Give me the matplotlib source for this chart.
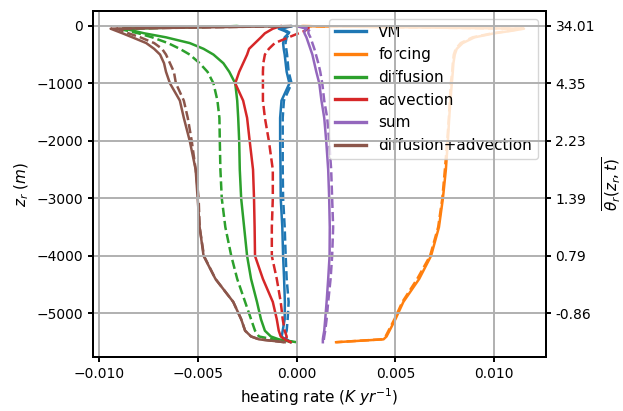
import matplotlib
matplotlib.use("Agg")
import matplotlib.pyplot as plt
import numpy as np

plt.rcParams["font.size"] = 11
plt.rcParams["xtick.labelsize"] = 10
plt.rcParams["ytick.labelsize"] = 10
plt.rcParams["axes.linewidth"] = 1.4
plt.rcParams["xtick.major.width"] = 1.4
plt.rcParams["ytick.major.width"] = 1.4
plt.rcParams["grid.linewidth"] = 1.4
plt.rcParams["lines.linewidth"] = 1.8

# depth levels (m)
z = [-5, -50, -90, -130, -200, -300, -400, -500, -650, -800, -1000, -1300, -1600, -2000, -2500,
     -3000, -3500, -4000, -4400, -4800, -5100, -5300, -5400, -5450, -5500]

# heating rates (K/yr), solid = run 1, dashed = run 2
vm = [-0.0003, -0.0009, -0.0006, -0.0004, -0.0006, -0.00068, -0.00065, -0.0006, -0.00055, -0.0005, -0.00036,
      -0.00076, -0.00083, -0.00083, -0.00081, -0.0008, -0.00072, -0.00068, -0.00063, -0.00059, -0.0006,
      -0.0007, -0.00075, -0.0006, -0.0003]
vm_2 = [-0.0002, -0.0008, -0.0005, -0.0003, -0.0005, -0.00056, -0.00052, -0.00048, -0.00044, -0.0004, -0.00025,
        -0.00064, -0.0007, -0.0007, -0.0007, -0.00068, -0.0006, -0.00055, -0.0005, -0.0004, -0.00045,
        -0.0005, -0.0006, -0.0005, -0.0003]
forcing = [0.0003, 0.0115, 0.0108, 0.0100, 0.0090, 0.0084, 0.0081, 0.0080, 0.00793, 0.0079, 0.00785,
           0.00778, 0.00772, 0.00765, 0.00755, 0.0074, 0.0072, 0.0068, 0.0062, 0.0054, 0.0050,
           0.0047, 0.00455, 0.0044, 0.0020]
forcing_2 = [0.0003, 0.0114, 0.0107, 0.0099, 0.0089, 0.0083, 0.00805, 0.00795, 0.0079, 0.00787, 0.0078,
             0.00775, 0.0077, 0.00762, 0.0075, 0.00737, 0.00716, 0.00675, 0.0061, 0.00535, 0.00495,
             0.00465, 0.0045, 0.0043, 0.0020]
diffusion = [-0.003, -0.0087, -0.0082, -0.0077, -0.0066, -0.0054, -0.0047, -0.0042, -0.0037, -0.0034, -0.0031,
             -0.0030, -0.00295, -0.0029, -0.00287, -0.0028, -0.00265, -0.0025, -0.0023, -0.0020, -0.0018,
             -0.0016, -0.0013, -0.0009, 0.0]
diffusion_2 = [-0.003, -0.0090, -0.0085, -0.0080, -0.0073, -0.0065, -0.0059, -0.0054, -0.0049, -0.0045, -0.0042,
               -0.0040, -0.0039, -0.00388, -0.00385, -0.00378, -0.0036, -0.0033, -0.0030, -0.0026, -0.0023,
               -0.0021, -0.0019, -0.0012, 0.0]
advection = [-0.0008, -0.0012, -0.0014, -0.0016, -0.0018, -0.0021, -0.0024, -0.0025, -0.0027, -0.0029, -0.0031,
             -0.0027, -0.0025, -0.00237, -0.0022, -0.00215, -0.00212, -0.0021, -0.0017, -0.0012, -0.0010,
             -0.0009, -0.0008, -0.0006, -0.0003]
advection_2 = [0.0006, 0.0006, 0.0004, 0.0001, -0.0004, -0.0011, -0.0014, -0.0016, -0.00168, -0.0017, -0.0017,
               -0.0017, -0.0016, -0.0014, -0.0012, -0.0012, -0.00125, -0.00125, -0.0010, -0.0008, -0.0007,
               -0.0006, -0.0005, -0.0005, -0.0003]
total = [0.0, 0.0005, 0.0004, 0.0004, 0.0005, 0.0006, 0.0007, 0.0008, 0.0009, 0.0010, 0.00115,
         0.00126, 0.0014, 0.0015, 0.0016, 0.00165, 0.00168, 0.00167, 0.0016, 0.00152, 0.00145,
         0.0014, 0.00135, 0.00133, 0.00133]
total_2 = [0.0001, 0.0007, 0.0006, 0.0006, 0.0007, 0.0008, 0.0009, 0.00098, 0.0011, 0.0012, 0.0013,
           0.0014, 0.00155, 0.00165, 0.00175, 0.0018, 0.00185, 0.0018, 0.00172, 0.0016, 0.00152,
           0.00145, 0.0014, 0.00138, 0.00138]
diff_adv = [-0.0003, -0.0094, -0.0091, -0.0088, -0.0083, -0.0076, -0.0072, -0.0069, -0.0067, -0.0066, -0.0064,
            -0.0059, -0.0057, -0.0054, -0.0051, -0.0050, -0.0049, -0.0047, -0.0041, -0.0032, -0.0028,
            -0.0026, -0.0023, -0.0019, -0.0006]
diff_adv_2 = [-0.0003, -0.0091, -0.0088, -0.0085, -0.0079, -0.0072, -0.0068, -0.0066, -0.0064, -0.0062, -0.0061,
              -0.0057, -0.0055, -0.0053, -0.0051, -0.00495, -0.0049, -0.00468, -0.0041, -0.0032, -0.0028,
              -0.0026, -0.0023, -0.0019, -0.0006]

labels = ["VM", "forcing", "diffusion", "advection", "sum", "diffusion+advection"]
theta_ticks = [0, -1000, -2000, -3000, -4000, -5000]
theta_labels = ["34.01", "4.35", "2.23", "1.39", "0.79", "-0.86"]

fig, ax = plt.subplots(figsize=(6.23, 4.11), dpi=100)
fig.subplots_adjust(left=0.149, right=0.876, top=0.973, bottom=0.131)

runs = [(vm, vm_2), (forcing, forcing_2), (diffusion, diffusion_2),
        (advection, advection_2), (total, total_2), (diff_adv, diff_adv_2)]
for i, (a, b) in enumerate(runs):
    ax.plot(a, z, color=f"C{i}", label=labels[i])
    ax.plot(b, z, color=f"C{i}", linestyle="--")

ax.set_xlim(-0.0103, 0.0126)
ax.set_ylim(-5760, 256)
ax.set_xticks([-0.010, -0.005, 0.0, 0.005, 0.010])
ax.set_xticklabels(["\u22120.010", "\u22120.005", "0.000", "0.005", "0.010"])
ax.set_xlabel(r"heating rate ($K\ yr^{-1}$)")
ax.set_ylabel(r"$z_r\ (m)$")
leg = ax.legend(loc="upper right")
for h in leg.get_lines():
    h.set_linewidth(2.4)

# twin axis: theta labels, grid drawn over everything
ax2 = ax.twinx()
ax2.set_ylim(ax.get_ylim())
ax2.set_yticks(theta_ticks)
ax2.set_yticklabels(theta_labels)
ax2.set_ylabel(r"$\overline{\theta_r(z_r,t)}$")
ax2.xaxis.set_visible(True)
ax2.tick_params(axis="x", bottom=False, top=False, labelbottom=False, labeltop=False)
ax2.grid(True)

fig.savefig("out.png", dpi=100)
